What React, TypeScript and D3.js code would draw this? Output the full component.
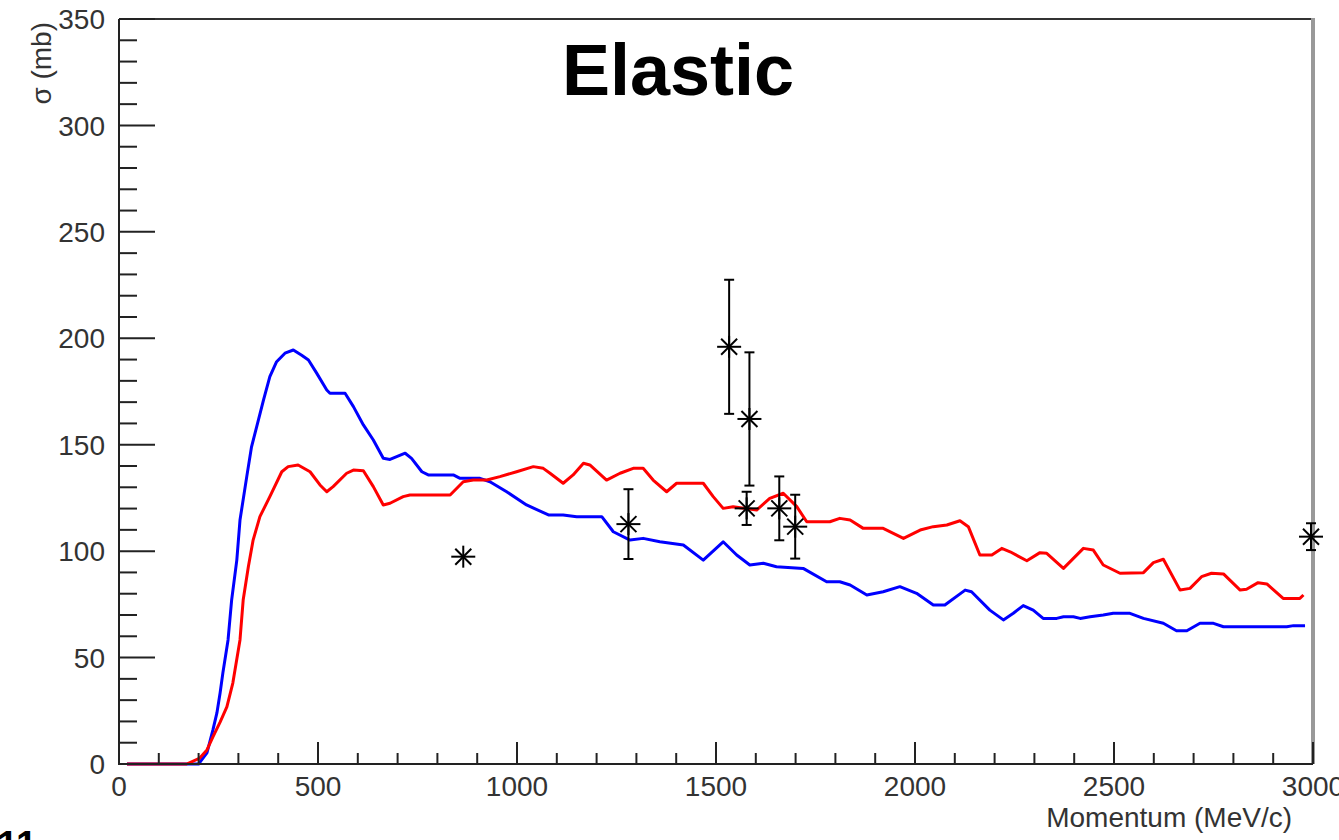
import React from "react";
import * as d3 from "d3";

// Blue model curve [momentum MeV/c, sigma mb]
const blueX = [20, 200, 221, 236, 246, 254, 261, 274, 283, 296, 304, 321, 333, 346, 363, 379, 396, 417, 438, 459, 476, 497, 522, 530, 568, 589, 614, 639, 664, 681, 719, 735, 761, 777, 840, 857, 907, 932, 974, 1024, 1079, 1116, 1150, 1213, 1242, 1284, 1317, 1359, 1418, 1468, 1518, 1552, 1585, 1619, 1652, 1719, 1778, 1811, 1837, 1879, 1920, 1962, 2004, 2046, 2075, 2126, 2142, 2188, 2222, 2247, 2272, 2297, 2322, 2356, 2373, 2398, 2415, 2440, 2473, 2498, 2540, 2574, 2624, 2657, 2683, 2716, 2750, 2775, 2934, 2951, 2980];
const blueY = [0, 0, 5.2, 16, 24, 33.4, 42.8, 58.3, 77, 95.8, 114.6, 135, 149, 158.5, 171, 182, 189, 193, 194.5, 192, 189.8, 183.5, 175.7, 174.2, 174.2, 167.9, 159.3, 152.2, 143.6, 143.1, 146, 143.6, 137.3, 135.8, 135.8, 134.2, 134.2, 132.6, 127.9, 121.7, 117, 117, 116.2, 116.2, 109.1, 105.2, 106, 104.4, 102.9, 95.8, 104.4, 98.2, 93.5, 94.3, 92.7, 91.9, 85.6, 85.6, 84.1, 79.4, 80.9, 83.3, 80.2, 74.7, 74.7, 81.7, 80.9, 72.3, 67.7, 70.8, 74.4, 72.3, 68.4, 68.4, 69.2, 69.2, 68.4, 69.2, 70, 70.8, 70.8, 68.4, 66.1, 62.6, 62.6, 66.1, 66.1, 64.5, 64.5, 65, 65];

// Red model curve
const redX = [20, 170, 203, 221, 236, 254, 271, 286, 304, 312, 325, 337, 354, 379, 409, 425, 450, 480, 505, 522, 538, 572, 589, 614, 639, 664, 681, 714, 731, 832, 865, 890, 924, 957, 999, 1041, 1066, 1083, 1116, 1141, 1167, 1183, 1225, 1259, 1292, 1317, 1342, 1376, 1401, 1468, 1493, 1518, 1543, 1602, 1635, 1669, 1703, 1728, 1786, 1811, 1837, 1870, 1920, 1971, 2013, 2046, 2080, 2113, 2134, 2163, 2193, 2218, 2239, 2281, 2314, 2331, 2373, 2423, 2448, 2473, 2515, 2574, 2599, 2624, 2666, 2691, 2720, 2745, 2775, 2817, 2833, 2862, 2884, 2925, 2967, 2976];
const redY = [0, 0, 2.8, 6.6, 12.7, 19.7, 26.8, 38, 58.3, 77, 92.7, 105.2, 116.2, 125.6, 137.3, 139.7, 140.5, 137.3, 131.1, 127.9, 130.3, 136.6, 138.1, 137.8, 130.3, 121.7, 122.5, 125.6, 126.4, 126.4, 132.6, 133.4, 133.4, 135, 137.3, 139.7, 138.9, 136.6, 131.9, 135.8, 141.3, 140.5, 133.4, 136.6, 138.9, 138.9, 133.4, 127.9, 131.9, 131.9, 125.6, 120.1, 120.9, 119.3, 124.8, 127.2, 120.9, 113.8, 113.8, 115.4, 114.6, 110.7, 110.7, 106, 109.9, 111.5, 112.3, 114.3, 111.5, 98.2, 98.2, 101.3, 99.7, 95.5, 99.3, 99, 91.9, 101.3, 100.5, 93.5, 89.6, 89.9, 94.6, 96.2, 81.7, 82.5, 88, 89.6, 89.3, 81.7, 82.1, 85.2, 84.6, 77.8, 77.8, 79.4];

// Experimental points
const dataX = [865, 1280, 1533, 1584, 1577, 1659, 1699, 2995];
const dataY = [97.4, 112.7, 196.0, 162.1, 120.1, 120.1, 111.5, 106.8];
const dataErr = [0, 16.4, 31.5, 31.3, 7.8, 15, 15, 6.3];

const xTicks = [0, 500, 1000, 1500, 2000, 2500, 3000];
const yTicks = [0, 50, 100, 150, 200, 250, 300, 350];

export default function App() {
  const W = 1339, H = 840;
  const x = d3.scaleLinear().domain([0, 3000]).range([119, 1313]);
  const y = d3.scaleLinear().domain([0, 350]).range([764, 19]);
  const line = d3.line<[number, number]>().x(d => x(d[0])).y(d => y(d[1]));
  const blue = blueX.map((v, i) => [v, blueY[i]] as [number, number]);
  const red = redX.map((v, i) => [v, redY[i]] as [number, number]);
  const minorX = d3.range(0, 3001, 100).filter(v => v % 500 !== 0);
  const minorY = d3.range(0, 351, 10).filter(v => v % 50 !== 0);
  const font = "'Liberation Sans', Arial, Helvetica, sans-serif";
  const axisColor = "#222";

  return (
    <svg width={W} height={H} style={{ position: "absolute", left: 0, top: 0, background: "#fff" }} fontFamily={font}>
      <rect x={0} y={0} width={W} height={H} fill="#fff" />
      {/* frame */}
      <line x1={119} x2={1313} y1={19} y2={19} stroke="#333" strokeWidth={2} />
      <line x1={1313} x2={1313} y1={18} y2={764} stroke="#999" strokeWidth={4} />
      {/* curves */}
      <path d={line(blue) || ""} fill="none" stroke="#0000ff" strokeWidth={3} strokeLinejoin="round" />
      <path d={line(red) || ""} fill="none" stroke="#ff0000" strokeWidth={3} strokeLinejoin="round" />
      {/* axes */}
      <line x1={119} x2={119} y1={19} y2={765} stroke={axisColor} strokeWidth={2} />
      <line x1={118} x2={1313} y1={764} y2={764} stroke={axisColor} strokeWidth={2} />
      {yTicks.map(t => (
        <g key={"yt" + t}>
          <line x1={119} x2={155} y1={y(t)} y2={y(t)} stroke={axisColor} strokeWidth={2} />
          <text x={105} y={y(t)} dy="0.36em" textAnchor="end" fontSize={28} fill="#333">{t}</text>
        </g>
      ))}
      {minorY.map(t => (
        <line key={"ym" + t} x1={119} x2={137} y1={y(t)} y2={y(t)} stroke={axisColor} strokeWidth={2} />
      ))}
      {xTicks.map(t => (
        <g key={"xt" + t}>
          <line x1={x(t)} x2={x(t)} y1={764} y2={742} stroke={axisColor} strokeWidth={2} />
          <text x={x(t)} y={796} textAnchor="middle" fontSize={28} fill="#333">{t}</text>
        </g>
      ))}
      {minorX.map(t => (
        <line key={"xm" + t} x1={x(t)} x2={x(t)} y1={764} y2={753} stroke={axisColor} strokeWidth={2} />
      ))}
      {/* data points */}
      {dataX.map((v, i) => {
        const cx = x(v), cy = y(dataY[i]);
        const e = dataErr[i];
        const d = 8;
        return (
          <g key={"p" + i} stroke="#000" strokeWidth={2}>
            {e > 0 && (
              <g>
                <line x1={cx} x2={cx} y1={y(dataY[i] + e)} y2={y(dataY[i] - e)} />
                <line x1={cx - 5} x2={cx + 5} y1={y(dataY[i] + e)} y2={y(dataY[i] + e)} />
                <line x1={cx - 5} x2={cx + 5} y1={y(dataY[i] - e)} y2={y(dataY[i] - e)} />
              </g>
            )}
            <line x1={cx - 12} x2={cx + 12} y1={cy} y2={cy} />
            <line x1={cx} x2={cx} y1={cy - 11} y2={cy + 11} />
            <line x1={cx - d} x2={cx + d} y1={cy - d} y2={cy + d} />
            <line x1={cx - d} x2={cx + d} y1={cy + d} y2={cy - d} />
          </g>
        );
      })}
      {/* titles */}
      <text x={562} y={95} fontSize={72} fontWeight="bold" fill="#000">Elastic</text>
      <text x={1292} y={827} textAnchor="end" fontSize={28} fill="#333">Momentum (MeV/c)</text>
      <text transform="translate(51,22) rotate(-90)" textAnchor="end" fontSize={28} fill="#333">σ (mb)</text>
      <text x={-3} y={858} fontSize={38} fontWeight="bold" fill="#000">11</text>
    </svg>
  );
}
